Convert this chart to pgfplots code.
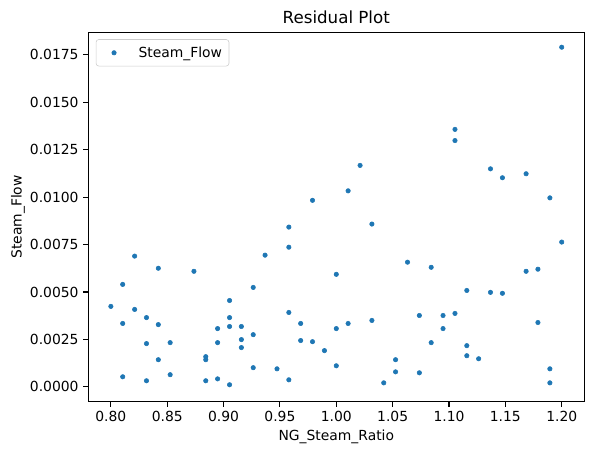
\documentclass[border=0pt]{standalone}
\usepackage{fontspec}
\setmainfont{DejaVu Sans}
\usepackage{pgfplots}
\pgfplotsset{compat=1.18}
\definecolor{mplblue}{HTML}{1F77B4}
\begin{document}
\begin{tikzpicture}
\begin{axis}[
  name=main,
  width=357.1pt, height=266pt, scale only axis,
  xmin=0.78, xmax=1.22, ymin=-0.00078, ymax=0.01869,
  xtick={0.80,0.85,0.90,0.95,1.00,1.05,1.10,1.15,1.20},
  ytick={0,0.0025,0.005,0.0075,0.01,0.0125,0.015,0.0175},
  scaled y ticks=false, scaled x ticks=false,
  xticklabel style={/pgf/number format/.cd, fixed, fixed zerofill, precision=2, assume math mode=true},
  yticklabel style={/pgf/number format/.cd, fixed, fixed zerofill, precision=4, assume math mode=true},
  tick label style={font=\fontsize{10}{12}\selectfont},
  tick align=outside, major tick length=3.5pt,
  tick style={black, line width=0.8pt},
  axis line style={line width=0.8pt},
  xtick pos=bottom, ytick pos=left,
  title={Residual Plot},
  title style={font=\fontsize{12}{14}\selectfont, at={(axis description cs:0.5,1)}, anchor=base},
  xlabel={NG\_Steam\_Ratio}, ylabel={Steam\_Flow},
  label style={font=\fontsize{10}{12}\selectfont},
  xlabel style={at={(axis description cs:0.5,-0.0955)}, anchor=center},
  ylabel style={at={(axis description cs:-0.1417,0.5)}, anchor=center},
  legend style={at={(axis description cs:0.015,0.981)}, anchor=north west,
    draw=black!20, rounded corners=2pt, font=\fontsize{10}{12}\selectfont,
    inner xsep=3pt, inner ysep=3pt},
  legend cell align=left,
  legend image code/.code={\path[draw=none,fill=none] (0cm,0cm) -- (0.9cm,0cm); \draw[#1] plot coordinates {(0.35cm,0cm)};},
]
\addplot[only marks, mark=*, mark size=1.6pt, color=mplblue, mark options={draw=mplblue, fill=mplblue}] table {
x y
0.8000 0.00424
0.8105 0.00540
0.8105 0.00334
0.8105 0.00053
0.8211 0.00689
0.8211 0.00408
0.8316 0.00365
0.8316 0.00228
0.8316 0.00032
0.8421 0.00625
0.8421 0.00328
0.8421 0.00143
0.8526 0.00233
0.8526 0.00064
0.8737 0.00609
0.8842 0.00159
0.8842 0.00143
0.8842 0.00032
0.8947 0.00307
0.8947 0.00233
0.8947 0.00042
0.9053 0.00455
0.9053 0.00365
0.9053 0.00318
0.9053 0.00011
0.9158 0.00318
0.9158 0.00249
0.9158 0.00207
0.9263 0.00524
0.9263 0.00275
0.9263 0.00101
0.9368 0.00694
0.9474 0.00095
0.9579 0.00842
0.9579 0.00736
0.9579 0.00392
0.9579 0.00037
0.9684 0.00334
0.9684 0.00244
0.9789 0.00983
0.9789 0.00238
0.9895 0.00191
1.0000 0.00593
1.0000 0.00307
1.0000 0.00111
1.0105 0.01033
1.0105 0.00334
1.0211 0.01167
1.0316 0.00858
1.0316 0.00350
1.0421 0.00021
1.0526 0.00143
1.0526 0.00079
1.0632 0.00657
1.0737 0.00376
1.0737 0.00074
1.0842 0.00630
1.0842 0.00233
1.0947 0.00376
1.0947 0.00307
1.1053 0.01357
1.1053 0.01298
1.1053 0.00387
1.1158 0.00508
1.1158 0.00217
1.1158 0.00164
1.1263 0.00148
1.1368 0.01149
1.1368 0.00498
1.1474 0.01102
1.1474 0.00493
1.1684 0.01123
1.1684 0.00609
1.1789 0.00620
1.1789 0.00339
1.1895 0.00996
1.1895 0.00095
1.1895 0.00021
1.2000 0.01790
1.2000 0.00763
};
\addlegendentry{Steam\_Flow}
\end{axis}
\pgfresetboundingbox
\path (main.south west) ++(-63.6pt,-38.4pt) rectangle ++(427pt,327.6pt);
\end{tikzpicture}
\end{document}
